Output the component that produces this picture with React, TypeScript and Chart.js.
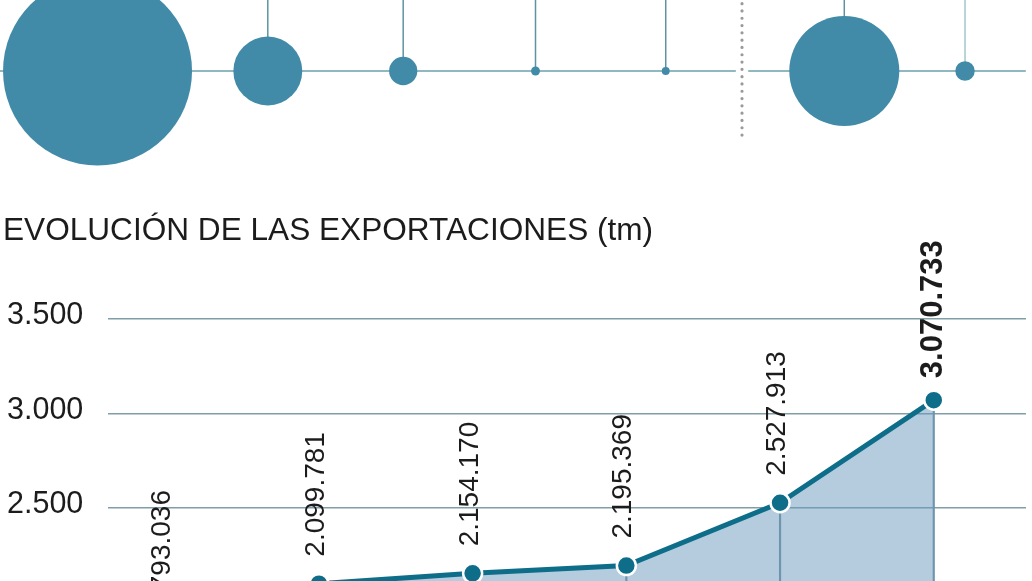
import React, { useEffect, useRef } from 'react';
import { Chart, registerables } from 'chart.js';

Chart.register(...registerables);

// ---- Top strip: bubbles (column position in % of width, share value) ----
const bubbleColumns = [9.45, 25.95, 39.07, 51.89, 64.51, 81.81, 93.51];
const bubbleShares = [85, 11.3, 1.9, 0.19, 0.15, 28.8, 0.9];
const dividerColumn = 71.9;

// ---- Line chart: export evolution (tm) ----
const periods = [0, 1, 2, 3, 4, 5];
const exportsTm = [1793036, 2099781, 2154170, 2195369, 2527913, 3070733];
const yTickValues = [1500000, 2000000, 2500000, 3000000, 3500000];
const titleText = 'EVOLUCIÓN DE LAS EXPORTACIONES (tm)';

const FONT = '"Liberation Sans", Arimo, Arial, sans-serif';

function fmtThousands(n: number): string {
  return Math.round(n).toString().replace(/\B(?=(\d{3})+(?!\d))/g, '.');
}

const bubbleDecor = {
  id: 'bubbleDecor',
  beforeDatasetsDraw(chart: any) {
    const { ctx, chartArea } = chart;
    const xs = chart.scales.x;
    const ys = chart.scales.y;
    const y0 = ys.getPixelForValue(0);
    ctx.save();
    ctx.lineWidth = 1.5;
    ctx.strokeStyle = '#6aa0ad';
    const segs = [[0, 71.3], [72.5, 99.4]];
    segs.forEach(([a, b]) => {
      ctx.beginPath();
      ctx.moveTo(xs.getPixelForValue(a), y0);
      ctx.lineTo(xs.getPixelForValue(b), y0);
      ctx.stroke();
    });
    bubbleColumns.forEach((c, i) => {
      const x = xs.getPixelForValue(c);
      ctx.strokeStyle = i === bubbleColumns.length - 1 ? '#a3c6ca' : '#5f93a1';
      ctx.beginPath();
      ctx.moveTo(x, chartArea.top);
      ctx.lineTo(x, y0);
      ctx.stroke();
    });
    // dotted divider
    const dx = xs.getPixelForValue(dividerColumn);
    ctx.strokeStyle = '#9a9a9a';
    ctx.lineWidth = 3.2;
    ctx.lineCap = 'round';
    ctx.setLineDash([0, 7.3]);
    ctx.beginPath();
    ctx.moveTo(dx, ys.getPixelForValue(-0.427));
    ctx.lineTo(dx, chartArea.top);
    ctx.stroke();
    ctx.restore();
  },
};

const pointLabels = {
  id: 'pointLabels',
  afterDatasetsDraw(chart: any) {
    const { ctx } = chart;
    const meta = chart.getDatasetMeta(0);
    meta.data.forEach((pt: any, i: number) => {
      const bold = i === exportsTm.length - 1;
      ctx.save();
      ctx.font = (bold ? 'bold 31px ' : '28px ') + FONT;
      ctx.fillStyle = '#1c1c1c';
      ctx.translate(pt.x + (bold ? 8.5 : 5), pt.y - (bold ? 22 : 27));
      ctx.rotate(-Math.PI / 2);
      ctx.textAlign = 'left';
      ctx.textBaseline = 'alphabetic';
      ctx.fillText(fmtThousands(exportsTm[i]), 0, 0);
      ctx.restore();
    });
  },
};

export default function App() {
  const topRef = useRef<HTMLCanvasElement>(null);
  const lineRef = useRef<HTMLCanvasElement>(null);

  useEffect(() => {
    const K = 10.25;
    const top = new Chart(topRef.current!, {
      type: 'bubble',
      data: {
        datasets: [
          {
            data: bubbleColumns.map((c, i) => ({ x: c, y: 0, r: K * Math.sqrt(bubbleShares[i]) })),
            backgroundColor: '#428ba8',
            borderWidth: 0,
            hoverRadius: 0,
            clip: false as any,
          },
        ],
      },
      options: {
        animation: false,
        responsive: false,
        events: [],
        layout: { padding: 0, autoPadding: false },
        plugins: { legend: { display: false }, tooltip: { enabled: false } },
        scales: {
          x: { type: 'linear', min: 0, max: 100, display: false },
          y: { type: 'linear', min: -1, max: 1, display: false },
        },
      },
      plugins: [bubbleDecor],
    });

    const pts = periods.map((p, i) => ({ x: p, y: exportsTm[i] }));
    const line = new Chart(lineRef.current!, {
      type: 'line',
      data: {
        datasets: [
          {
            type: 'line',
            data: pts,
            borderColor: '#0e6e8a',
            borderWidth: 5,
            fill: 'start',
            backgroundColor: 'rgba(106,153,190,0.5)',
            pointRadius: 9.5,
            pointBackgroundColor: '#0e6e8a',
            pointBorderColor: '#ffffff',
            pointBorderWidth: 2.5,
            tension: 0,
            order: 0,
            clip: false,
          } as any,
          {
            type: 'bar',
            data: pts,
            backgroundColor: '#6f95ae',
            barThickness: 1.5,
            order: 1,
          } as any,
        ],
      },
      options: {
        animation: false,
        responsive: false,
        events: [],
        layout: { padding: { top: 119, left: 7, right: 6, bottom: 63 }, autoPadding: false },
        plugins: {
          legend: { display: false },
          tooltip: { enabled: false },
          filler: { drawTime: 'beforeDatasetsDraw' } as any,
        },
        scales: {
          x: {
            type: 'linear',
            min: -0.37,
            max: 5.6,
            offset: false,
            grid: { offset: false },
            display: false,
          },
          y: {
            type: 'linear',
            min: yTickValues[0],
            max: yTickValues[yTickValues.length - 1],
            afterBuildTicks: (axis: any) => {
              axis.ticks = yTickValues.map((v) => ({ value: v }));
            },
            border: { display: false },
            grid: { color: '#7f9ea6', lineWidth: 1.4, drawTicks: false },
            ticks: {
              crossAlign: 'far',
              padding: 12.5,
              labelOffset: -3,
              color: '#1c1c1c',
              font: { family: FONT, size: 30.5 },
              callback: (v: any) => fmtThousands(Number(v) / 1000),
            },
          },
        },
      },
      plugins: [pointLabels],
    });

    return () => {
      top.destroy();
      line.destroy();
    };
  }, []);

  return (
    <div
      style={{
        position: 'fixed',
        left: 0,
        top: 0,
        width: 1032,
        height: 581,
        overflow: 'hidden',
        background: '#ffffff',
      }}
    >
      <canvas
        ref={topRef}
        width={1032}
        height={300}
        style={{ position: 'absolute', left: 0, top: -79, width: 1032, height: 300 }}
      />
      <div
        style={{
          position: 'absolute',
          left: 3,
          top: 214,
          font: '31.6px ' + FONT,
          lineHeight: '31px',
          color: '#1c1c1c',
          whiteSpace: 'nowrap',
        }}
      >
        {titleText}
      </div>
      <canvas
        ref={lineRef}
        width={1032}
        height={560}
        style={{ position: 'absolute', left: 0, top: 200, width: 1032, height: 560 }}
      />
    </div>
  );
}
